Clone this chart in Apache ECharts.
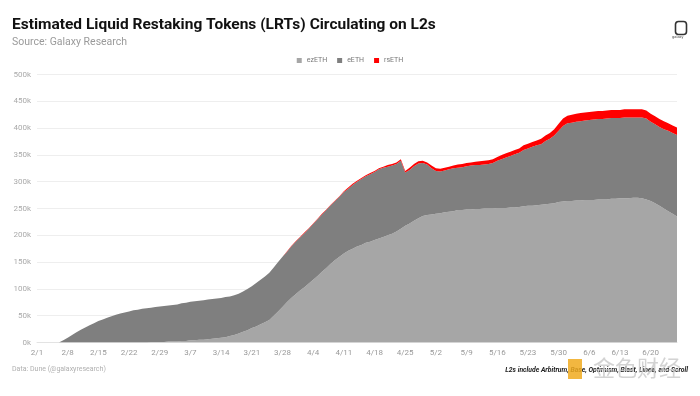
<!DOCTYPE html>
<html><head><meta charset="utf-8">
<script src="https://cdn.jsdelivr.net/npm/echarts@6/dist/echarts.min.js"></script>
<style>html,body{margin:0;padding:0;background:#fff}#c{width:700px;height:396px}</style>
</head><body><div id="c"></div>
<script>
// Dates 2024-02-01 .. 2024-06-26
const monthDays = [["2",29],["3",31],["4",30],["5",31],["6",26]];
const categories = [];
monthDays.forEach(([m,n])=>{for(let d=1;d<=n;d++)categories.push(m+"/"+d);});

// values in thousands
const ezETH = [0,0,0,0,0,0,0,0,0,0,0,0,0,0,0,0,0,0,0,0,0,0,0,0,0,
0,1,1,1,1,2,2,2,3,3,4,4,5,5,6,7,8,9,10,12,14,17,20,23,27,30,34,38,42,50,58,66,75,83,90,97,103,110,117,124,132,139,147,154,160,166,171,175,179,182,186,188,191,194,197,200,203,207,212,218,222,227,232,236,238,239,240,241,243,244,245,247,247,248,248,249,249,250,250,250,251,251,251,252,252,253,254,255,255,256,257,258,259,260,262,263,264,264,265,265,266,266,266,267,267,267,268,268,269,269,269,270,270,269,267,264,260,255,250,245,240,235];
const eETH = [0,0,0,0,0,0,4,9,14,19,24,28,32,36,40,43,46,49,52,54,56,58,60,61,63,
64,64,65,66,67,67,68,69,70,71,72,73,73,74,74,74,74,74,75,74,74,74,75,77,78,81,83,85,88,90,92,94,94,96,98,99,101,102,104,106,107,108,109,110,112,115,116,119,121,123,124,126,127,129,129,128,127,126,127,99,100,102,102,99,94,86,80,78,78,79,80,79,80,81,82,82,82,82,83,85,88,91,94,96,99,101,105,107,110,112,113,118,121,126,133,141,145,146,147,148,148,149,150,150,150,151,151,151,150,151,151,150,150,151,151,148,147,147,148,150,151,152];
const rsETH = [0,0,0,0,0,0,0,0,0,0,0,0,0,0,0,0,0,0,0,0,0,0,0,0,0,0,0,0,0,0,0,0,0,0,0,0,0,0,0,0,0,0,0,0,0,0,0,0,0,0,0,0,0,0,0,0,0,
1,1,1,1,1,1,1,1,1,1,1,1,1,1,2,2,2,2,2,2,2,2,2,3,3,3,3,3,4,4,4,4,4,5,5,5,5,5,5,6,6,6,6,6,7,7,7,7,7,8,8,8,8,8,9,9,9,9,10,10,11,12,13,14,14,15,15,15,15,15,15,15,15,15,15,15,15,15,15,15,15,15,15,15,15,15,15,14,14,14];
const seriesNames = ["ezETH","eETH","rsETH"];
const seriesColors = ["#a6a6a6","#7f7f7f","#ff0000"];
const yTicks = [0,50,100,150,200,250,300,350,400,450,500];

const chart = echarts.init(document.getElementById('c'), null, {renderer:'canvas'});
const font = 'Roboto, "Liberation Sans", sans-serif';
const mk = (name, data, i) => ({
  name, type:'line', stack:'total', data, symbol:'none', smooth:false,
  lineStyle:{width:0}, areaStyle:{color:seriesColors[i], opacity:1},
  itemStyle:{color:seriesColors[i]}, emphasis:{disabled:true}
});
chart.setOption({
  animation:false,
  backgroundColor:'#fff',
  title:[
    {text:'Estimated Liquid Restaking Tokens (LRTs) Circulating on L2s', left:7, top:12,
     textStyle:{fontFamily:font, fontSize:15.5, fontWeight:'bold', color:'#111'}},
    {text:'Source: Galaxy Research', left:7, top:32,
     textStyle:{fontFamily:font, fontSize:10.5, fontWeight:'normal', color:'#9a9a9a'}}
  ],
  legend:{data:seriesNames, top:52, left:'center', itemWidth:5, itemHeight:5, itemGap:10,
    icon:'rect', textStyle:{fontFamily:font, fontSize:7, color:'#777'}},
  grid:{left:37, right:23, top:74.5, bottom:53.5},
  xAxis:{type:'category', data:categories, boundaryGap:false,
    axisLine:{lineStyle:{color:'#e3e3e3'}}, axisTick:{show:false},
    axisLabel:{interval:6, color:'#999', fontSize:8, fontFamily:font, margin:6}},
  yAxis:{type:'value', min:0, max:500, interval:50,
    axisLabel:{formatter:'{value}k', color:'#aaa', fontSize:8, fontFamily:font, margin:6},
    splitLine:{lineStyle:{color:'#eeeeee'}}, axisLine:{show:false}, axisTick:{show:false}},
  series:[mk(seriesNames[0],ezETH,0), mk(seriesNames[1],eETH,1), mk(seriesNames[2],rsETH,2)],
  graphic:[
    {type:'text', left:12, top:366, style:{text:'Data: Dune (@galaxyresearch)', fill:'#b0b0b0', font:'7px '+font}},
    {type:'text', right:12, top:367, style:{text:'L2s include Arbitrum, Base, Optimism, Blast, Linea, and Scroll', fill:'#222', font:'italic bold 6.8px '+font}},
    {type:'rect', left:673, top:19, shape:{width:11, height:13, r:3}, style:{fill:'none', stroke:'#333', lineWidth:1.6}},
    {type:'text', left:672, top:35, style:{text:'galaxy', fill:'#555', font:'4px '+font}},
    {type:'rect', left:568, top:359, shape:{width:14, height:20}, style:{fill:'rgba(240,170,30,0.85)'}},
    {type:'text', left:593, top:357, style:{text:'金色财经', fill:'rgba(200,200,200,0.8)', font:'22px "Noto Sans CJK SC"'}}
  ]
});
</script></body></html>
